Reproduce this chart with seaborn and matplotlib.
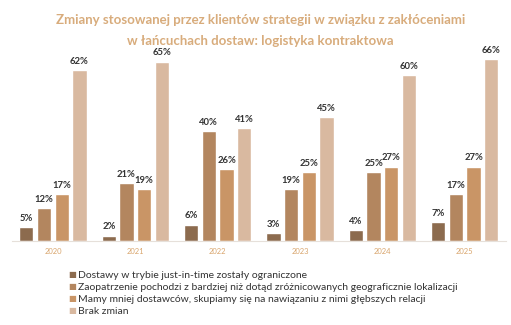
import matplotlib
matplotlib.use("Agg")
import matplotlib.pyplot as plt
import seaborn as sns
import pandas as pd

years = ["2020", "2021", "2022", "2023", "2024", "2025"]
series = [
    "Dostawy w trybie just-in-time zostały ograniczone",
    "Zaopatrzenie pochodzi z bardziej niż dotąd zróżnicowanych geograficznie lokalizacji",
    "Mamy mniej dostawców, skupiamy się na nawiązaniu z nimi głębszych relacji",
    "Brak zmian",
]
v_jit = [5, 2, 6, 3, 4, 7]
v_geo = [12, 21, 40, 19, 25, 17]
v_few = [17, 19, 26, 25, 27, 27]
v_none = [62, 65, 41, 45, 60, 66]
colors = ["#8C6B4E", "#B3865F", "#C99566", "#D9B9A0"]

rows = []
for s, vals in zip(series, [v_jit, v_geo, v_few, v_none]):
    for y, v in zip(years, vals):
        rows.append({"Rok": y, "Seria": s, "Wartość": v})
df = pd.DataFrame(rows)

sns.set_theme(style="white")
plt.rcParams["font.family"] = ["Lato", "DejaVu Sans"]

fig = plt.figure(figsize=(5.11, 3.25), dpi=100)
ax = fig.add_axes([0.023, 0.258, 0.967, 0.588])
sns.barplot(data=df, x="Rok", y="Wartość", hue="Seria", palette=colors,
            width=0.86, gap=0.2, ax=ax, legend=False, saturation=1)

for cont in ax.containers:
    ax.bar_label(cont, labels=[f"{int(v)}%" for v in cont.datavalues],
                 padding=3, fontsize=6.8, color="#333333", fontweight="bold")

ax.set_xlim(-0.5, 5.5)
ax.set_ylim(0, 69.2)
ax.set_yticks([])
ax.set_xlabel("")
ax.set_ylabel("")
for sp in ["top", "right", "left"]:
    ax.spines[sp].set_visible(False)
ax.spines["bottom"].set_color("#E6E0DA")
ax.spines["bottom"].set_linewidth(0.8)
ax.tick_params(axis="x", length=0, labelsize=5.5, labelcolor="#D9A66E", pad=5)

fig.text(0.51, 0.937, "Zmiany stosowanej przez klientów strategii w związku z zakłóceniami",
         ha="center", va="center", fontsize=9.5, fontweight="bold", color="#D8AC7C")
fig.text(0.51, 0.874, "w łańcuchach dostaw: logistyka kontraktowa",
         ha="center", va="center", fontsize=9.5, fontweight="bold", color="#D8AC7C")

ys = [275, 287, 299, 311]
for c, s, yy in zip(colors, series, ys):
    fy = 1 - yy / 325
    fig.text(0.142, fy, "■", ha="center", va="center", fontsize=6, color=c,
             family=["DejaVu Sans"])
    fig.text(0.153, fy, s, ha="left", va="center", fontsize=7.5, color="#333333")

fig.savefig("out.png", dpi=100)
